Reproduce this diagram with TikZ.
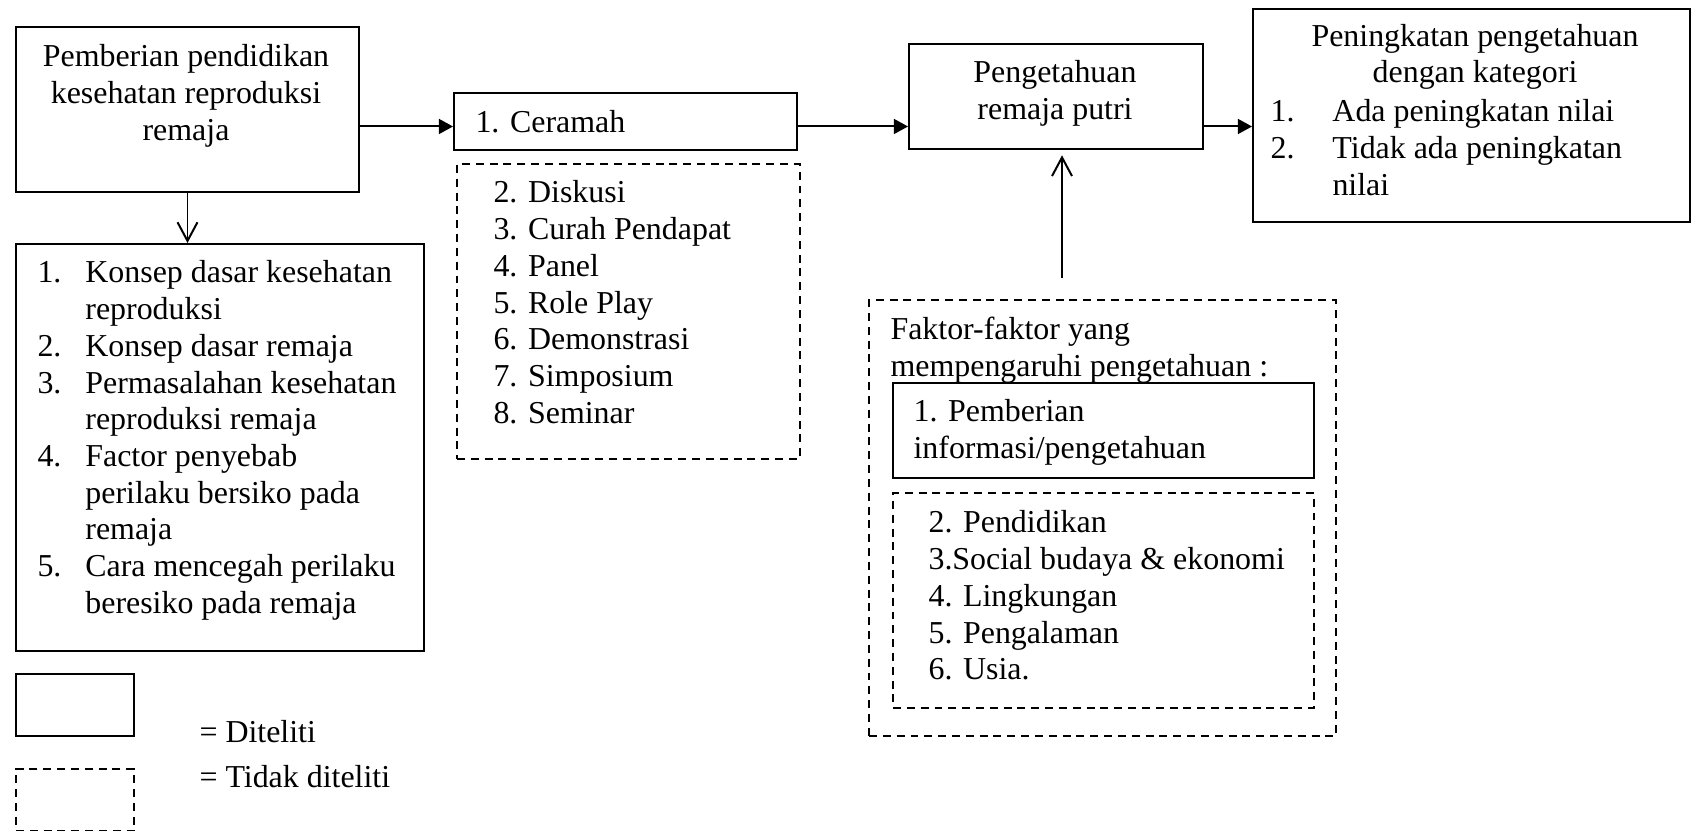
\documentclass[tikz,border=0pt]{standalone}
\usepackage{fontspec}
\setmainfont{Liberation Serif}
\usetikzlibrary{arrows.meta, positioning}
\newcommand{\px}{0.376pt}
\newcommand{\nomor}[2]{\makebox[#1][l]{#2}}
\newcommand{\kiri}[1]{\begin{tabular}[t]{@{}l@{}}#1\end{tabular}}
\newcommand{\pusat}[1]{\begin{tabular}[t]{@{}c@{}}#1\end{tabular}}

\begin{document}
\begin{tikzpicture}[
    x=0.376pt, y=-0.376pt,
    font=\fontsize{12pt}{13.8pt}\selectfont,
    kotak/.style={draw, line width=0.75pt, inner sep=0pt, anchor=north west},
    putus/.style={kotak, dash pattern=on 3pt off 2.2pt},
    teks/.style={inner sep=0pt, anchor=base west},
    tengah/.style={inner sep=0pt, anchor=base},
    panah/.style={-{Triangle[length=5.3pt, width=5.6pt]}, line width=0.75pt},
    buka/.style={-{Straight Barb[length=7pt, width=7.5pt]}, line width=0.75pt},
]
\useasboundingbox (0,0) rectangle (1691,831);

% kotak utama
\node[kotak, minimum width=343*\px, minimum height=165*\px] (pend) at (15,26) {};
\node[kotak, minimum width=408*\px, minimum height=407*\px] (materi) at (15,243) {};
\node[kotak, minimum width=343*\px, minimum height=57*\px] (ceramah) at (453,92) {};
\node[putus, minimum width=343*\px, minimum height=295*\px] (metode) at (456,163) {};
\node[kotak, minimum width=294*\px, minimum height=105*\px] (tahu) at (908,43) {};
\node[kotak, minimum width=437*\px, minimum height=213*\px] (hasil) at (1252,8) {};
\node[putus, minimum width=467*\px, minimum height=436*\px] (faktor) at (868,299) {};

% isi teks
\node[tengah] (pendTxt) at (186,67)
    {\pusat{Pemberian pendidikan\\kesehatan reproduksi\\remaja}};
\node[teks] (materiTxt) at (37,283)
    {\kiri{\nomor{18pt}{1.}Konsep dasar kesehatan\\\hspace*{18pt}reproduksi\\
     \nomor{18pt}{2.}Konsep dasar remaja\\
     \nomor{18pt}{3.}Permasalahan kesehatan\\\hspace*{18pt}reproduksi remaja\\
     \nomor{18pt}{4.}Factor penyebab\\\hspace*{18pt}perilaku bersiko pada\\\hspace*{18pt}remaja\\
     \nomor{18pt}{5.}Cara mencegah perilaku\\\hspace*{18pt}beresiko pada remaja}};
\node[teks] (ceramahTxt) at (475,133) {1. Ceramah};
\node[teks] (metodeTxt) at (493,203)
    {\kiri{2. Diskusi\\3. Curah Pendapat\\4. Panel\\5. Role Play\\6. Demonstrasi\\7. Simposium\\8. Seminar}};
\node[tengah] (tahuTxt) at (1055,83) {\pusat{Pengetahuan\\remaja putri}};
\node[tengah, font=\fontsize{12pt}{13.2pt}\selectfont] (hasilJudul) at (1475,47)
    {\pusat{Peningkatan pengetahuan\\dengan kategori}};
\node[teks] (hasilDaftar) at (1270,122)
    {\kiri{\nomor{23.3pt}{1.}Ada peningkatan nilai\\
     \nomor{23.3pt}{2.}Tidak ada peningkatan\\\hspace*{23.3pt}nilai}};
\node[teks] (faktorTxt) at (890,340) {\kiri{Faktor-faktor yang\\mempengaruhi pengetahuan :}};

% kotak faktor di dalam
\node[kotak, fill=white, minimum width=421*\px, minimum height=95*\px] (info) at (892,382) {};
\node[putus, minimum width=421*\px, minimum height=215*\px] (lain) at (892,492) {};
\node[teks] (infoTxt) at (913,422) {\kiri{1. Pemberian\\informasi/pengetahuan}};
\node[teks] (lainTxt) at (928,533)
    {\kiri{2. Pendidikan\\3.Social budaya \& ekonomi\\4. Lingkungan\\5. Pengalaman\\6. Usia.}};

% keterangan
\node[kotak, minimum width=118*\px, minimum height=62*\px] (ketA) at (15,673) {};
\node[putus, minimum width=118*\px, minimum height=62*\px] (ketB) at (15,768) {};
\node[teks] (ketATxt) at (199,742) {= Diteliti};
\node[teks] (ketBTxt) at (199,788) {= Tidak diteliti};

% panah
\coordinate (jalur) at (0,126.5);
\coordinate (naik) at (1062,278);
\draw[panah] (pend.east |- jalur) -- (ceramah.west |- jalur);
\draw[panah] (ceramah.east |- jalur) -- (tahu.west |- jalur);
\draw[panah] (tahu.east |- jalur) -- (hasil.west |- jalur);
\draw[buka] (pend.south) -- (pend.south |- materi.north);
\draw[buka, shorten >=2pt] (naik) -- (naik |- tahu.south);

\end{tikzpicture}
\end{document}
